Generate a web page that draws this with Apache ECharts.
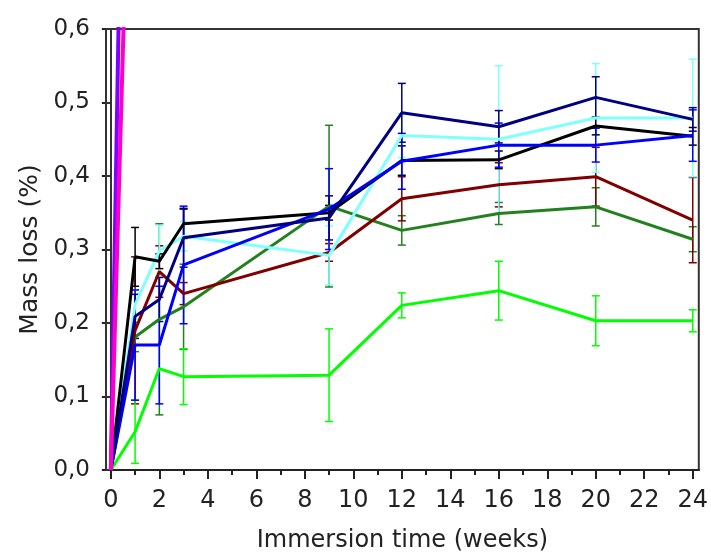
<!DOCTYPE html>
<html>
<head>
<meta charset="utf-8">
<script src="https://cdn.jsdelivr.net/npm/echarts@6/dist/echarts.min.js"></script>
<style>
  html, body { margin: 0; padding: 0; background: #fff; }
  #grafico { width: 711px; height: 558px; }
</style>
</head>
<body>
<div id="grafico"></div>
<script>
// sampling times (weeks)
var weeks = [0, 1, 2, 3, 9, 12, 16, 20, 24];
var xMajorTicks = [0, 2, 4, 6, 8, 10, 12, 14, 16, 18, 20, 22, 24];
var xMinorTicks = [1, 3, 5, 7, 9, 11, 13, 15, 17, 19, 21, 23];

// mean mass loss (%) and error per sample
var blackVals = [0, 0.290, 0.284, 0.335, 0.350, 0.421, 0.422, 0.468, 0.454];
var blackErr  = [0, 0.040, 0.010, 0.020, 0.010, 0.020, 0.012, 0.012, 0.012];
var maroonVals = [0, 0.190, 0.270, 0.240, 0.296, 0.369, 0.388, 0.399, 0.340];
var maroonErr  = [0, 0.100, 0.035, 0.015, 0.012, 0.030, 0.030, 0.040, 0.058];
var greenVals = [0, 0.181, 0.205, 0.222, 0.359, 0.326, 0.349, 0.358, 0.314];
var greenErr  = [0, 0.020, 0.130, 0.058, 0.110, 0.020, 0.015, 0.026, 0.017];
var limeVals = [0, 0.052, 0.138, 0.127, 0.129, 0.224, 0.244, 0.203, 0.203];
var limeErr  = [0, 0.043, 0, 0.038, 0.063, 0.017, 0.040, 0.034, 0.015];
var cyanVals = [0, 0.225, 0.298, 0.318, 0.292, 0.455, 0.450, 0.479, 0.479];
var cyanErr  = [0, 0.020, 0.035, 0.020, 0.040, 0.030, 0.100, 0.074, 0.080];
var blueVals = [0, 0.170, 0.170, 0.279, 0.355, 0.420, 0.442, 0.442, 0.455];
var blueErr  = [0, 0.075, 0.080, 0.080, 0.055, 0.038, 0.030, 0.023, 0.035];
var navyVals = [0, 0.209, 0.232, 0.316, 0.343, 0.486, 0.467, 0.507, 0.477];
var navyErr  = [0, 0.030, 0.030, 0.040, 0.030, 0.040, 0.022, 0.028, 0.016];
// these two run off the top of the plot right after week 0
var steepWeeks = [0, 1];
var magentaVals = [0, 1.15];
var purpleVals = [0, 1.9];

var chartDom = document.getElementById('grafico');
var myChart = echarts.init(chartDom);
var option;

var FONT = 'DejaVu Sans';
var TEXT = '#222';

function lineSeries(color, xs, vals, width) {
  return {
    type: 'line',
    data: xs.map(function (w, i) { return [w, vals[i]]; }),
    symbol: 'none',
    clip: true,
    lineStyle: { color: color, width: width || 3 },
    itemStyle: { color: color },
    z: 3
  };
}

function errSeries(color, vals, errs) {
  var pts = [];
  weeks.forEach(function (w, i) {
    if (errs[i] > 0) pts.push([w, vals[i] - errs[i], vals[i] + errs[i]]);
  });
  return {
    type: 'custom',
    clip: true,
    z: 2,
    data: pts,
    encode: { x: 0, y: [1, 2] },
    renderItem: function (params, api) {
      var x = api.value(0);
      var top = api.coord([x, api.value(2)]);
      var bot = api.coord([x, api.value(1)]);
      var w = 4;
      var st = { stroke: color, lineWidth: 1.5 };
      return {
        type: 'group',
        children: [
          { type: 'line', shape: { x1: top[0], y1: top[1], x2: bot[0], y2: bot[1] }, style: st },
          { type: 'line', shape: { x1: top[0] - w, y1: top[1], x2: top[0] + w, y2: top[1] }, style: st },
          { type: 'line', shape: { x1: bot[0] - w, y1: bot[1], x2: bot[0] + w, y2: bot[1] }, style: st }
        ]
      };
    }
  };
}

var groups = [
  ['#22801f', greenVals, greenErr],
  ['#800000', maroonVals, maroonErr],
  ['#00ff00', limeVals, limeErr],
  ['#80ffff', cyanVals, cyanErr],
  ['#000000', blackVals, blackErr],
  ['#0000ff', blueVals, blueErr],
  ['#000080', navyVals, navyErr]
];

var series = [];
groups.forEach(function (g) {
  series.push(errSeries(g[0], g[1], g[2]));
  series.push(lineSeries(g[0], weeks, g[1]));
});
series.push(lineSeries('#8000ff', steepWeeks, purpleVals, 4));
series.push(lineSeries('#ff00cc', steepWeeks, magentaVals, 4));

option = {
  animation: false,
  backgroundColor: '#fff',
  grid: {
    left: 106, right: 10, top: 29, bottom: 86,
    show: true, borderColor: '#333', borderWidth: 2
  },
  xAxis: [
    {
      type: 'value',
      min: -0.2,
      max: 24.25,
      position: 'bottom',
      splitLine: { show: false },
      axisLine: { show: true, lineStyle: { color: '#222', width: 2 } },
      axisTick: { show: true, customValues: xMajorTicks, length: 9, lineStyle: { color: '#222', width: 2 } },
      axisLabel: { customValues: xMajorTicks, fontFamily: FONT, fontSize: 24, color: TEXT, margin: 19 },
      name: 'Immersion time (weeks)',
      nameLocation: 'middle',
      nameGap: 59,
      nameTextStyle: { fontFamily: FONT, fontSize: 24, color: TEXT }
    },
    {
      type: 'value',
      min: -0.2,
      max: 24.25,
      position: 'bottom',
      splitLine: { show: false },
      axisLine: { show: false },
      axisTick: { show: true, customValues: xMinorTicks, length: 5, lineStyle: { color: '#222', width: 2 } },
      axisLabel: { show: false }
    }
  ],
  yAxis: [
    {
      type: 'value',
      min: 0,
      max: 0.6,
      interval: 0.1,
      position: 'left',
      splitLine: { show: false },
      axisLine: { show: true, lineStyle: { color: '#222', width: 2 } },
      axisTick: { show: true, length: 9, lineStyle: { color: '#222', width: 2 } },
      axisLabel: {
        fontFamily: FONT, fontSize: 23, color: TEXT, margin: 16,
        formatter: function (v) { return v.toFixed(1).replace('.', ','); }
      },
      name: 'Mass loss (%)',
      nameLocation: 'middle',
      nameGap: 62,
      nameRotate: 90,
      nameTextStyle: { fontFamily: FONT, fontSize: 25, color: TEXT }
    },
    {
      type: 'value',
      min: 0,
      max: 0.6,
      interval: 0.1,
      position: 'right',
      splitLine: { show: false },
      axisLine: { show: true, lineStyle: { color: '#333', width: 2 } },
      axisTick: { show: true, inside: true, length: 6, lineStyle: { color: '#333', width: 2 } },
      axisLabel: { show: false }
    }
  ],
  series: series
};

option && myChart.setOption(option);
</script>
</body>
</html>
